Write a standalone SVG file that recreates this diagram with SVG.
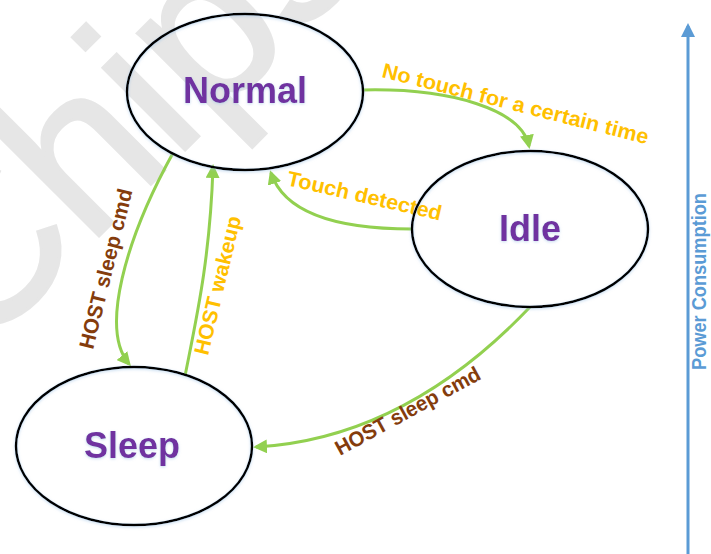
<svg xmlns="http://www.w3.org/2000/svg" width="711" height="554" viewBox="0 0 711 554">
  <style>
    .state { fill: none; stroke: #000000; stroke-width: 2.5; }
    .title { font-family: "Liberation Sans", Arial, sans-serif; font-weight: bold; font-size: 36px; fill: #7030A0; text-anchor: middle; }
    .lbl { font-family: "Liberation Sans", Arial, sans-serif; font-weight: bold; font-size: 21px; }
    .orange { fill: #FFC000; }
    .brown { fill: #843C0C; }
    .edge { fill: none; stroke: #92D050; stroke-width: 3; }
    .wm { font-family: "Liberation Sans", Arial, sans-serif; font-size: 220px; fill: #e6e6e6; stroke: #e6e6e6; stroke-width: 3; }
  </style>
  <defs>
    <marker id="ga" viewBox="0 0 14 14" markerUnits="userSpaceOnUse" markerWidth="14" markerHeight="14" refX="11" refY="7" orient="auto">
      <path d="M0,0 L14,7 L0,14 z" fill="#92D050"/>
    </marker>
    <marker id="ba" viewBox="0 0 14 14" markerUnits="userSpaceOnUse" markerWidth="14" markerHeight="14" refX="11" refY="7" orient="auto">
      <path d="M0,0 L14,7 L0,14 z" fill="#5B9BD5"/>
    </marker>
    <filter id="glow" x="-10%" y="-10%" width="120%" height="120%">
      <feDropShadow dx="0" dy="1" stdDeviation="1.5" flood-color="#9dc3e6" flood-opacity="0.6"/>
    </filter>
  </defs>

  <text class="wm" transform="translate(-24,359) rotate(-45)">Chipsea</text>

  <g id="connectors">
    <path class="edge" d="M363,90 C452,88 522,110 529,146" marker-end="url(#ga)"/>
    <path class="edge" d="M412,229 C340,229 285,215 271,173" marker-end="url(#ga)"/>
    <path class="edge" d="M173,153 C125,240 100,330 129,364" marker-end="url(#ga)"/>
    <path class="edge" d="M185,376 C196,320 210,260 213,167" marker-end="url(#ga)"/>
    <path class="edge" d="M530,307 C470,370 380,440 256,447" marker-end="url(#ga)"/>
    <text class="lbl orange" transform="translate(381,77) rotate(14.2)" textLength="274" lengthAdjust="spacingAndGlyphs">No touch for a certain time</text>
    <text class="lbl orange" transform="translate(286,185) rotate(13)" textLength="158" lengthAdjust="spacingAndGlyphs">Touch detected</text>
    <text class="lbl brown" transform="translate(93,350) rotate(-76)" textLength="164" lengthAdjust="spacingAndGlyphs">HOST sleep cmd</text>
    <text class="lbl orange" transform="translate(208,356) rotate(-76.5)" textLength="142" lengthAdjust="spacingAndGlyphs">HOST wakeup</text>
    <text class="lbl brown" transform="translate(340,456) rotate(-28.6)" textLength="162" lengthAdjust="spacingAndGlyphs">HOST sleep cmd</text>
  </g>

  <g id="normal">
    <ellipse class="state" cx="245" cy="92" rx="118" ry="78" filter="url(#glow)"/>
    <text class="title" x="245" y="103" filter="url(#glow)">Normal</text>
  </g>
  <g id="idle">
    <ellipse class="state" cx="530" cy="229" rx="118" ry="78" filter="url(#glow)"/>
    <text class="title" x="530" y="241" filter="url(#glow)">Idle</text>
  </g>
  <g id="sleep">
    <ellipse class="state" cx="134" cy="446" rx="118" ry="79" filter="url(#glow)"/>
    <text class="title" x="132" y="458" filter="url(#glow)">Sleep</text>
  </g>

  <g id="power-axis">
    <line x1="688" y1="554" x2="688" y2="26" stroke="#5B9BD5" stroke-width="3" marker-end="url(#ba)"/>
    <text class="lbl" fill="#5B9BD5" transform="translate(706,370) rotate(-90)" textLength="177" lengthAdjust="spacingAndGlyphs">Power Consumption</text>
  </g>
</svg>
